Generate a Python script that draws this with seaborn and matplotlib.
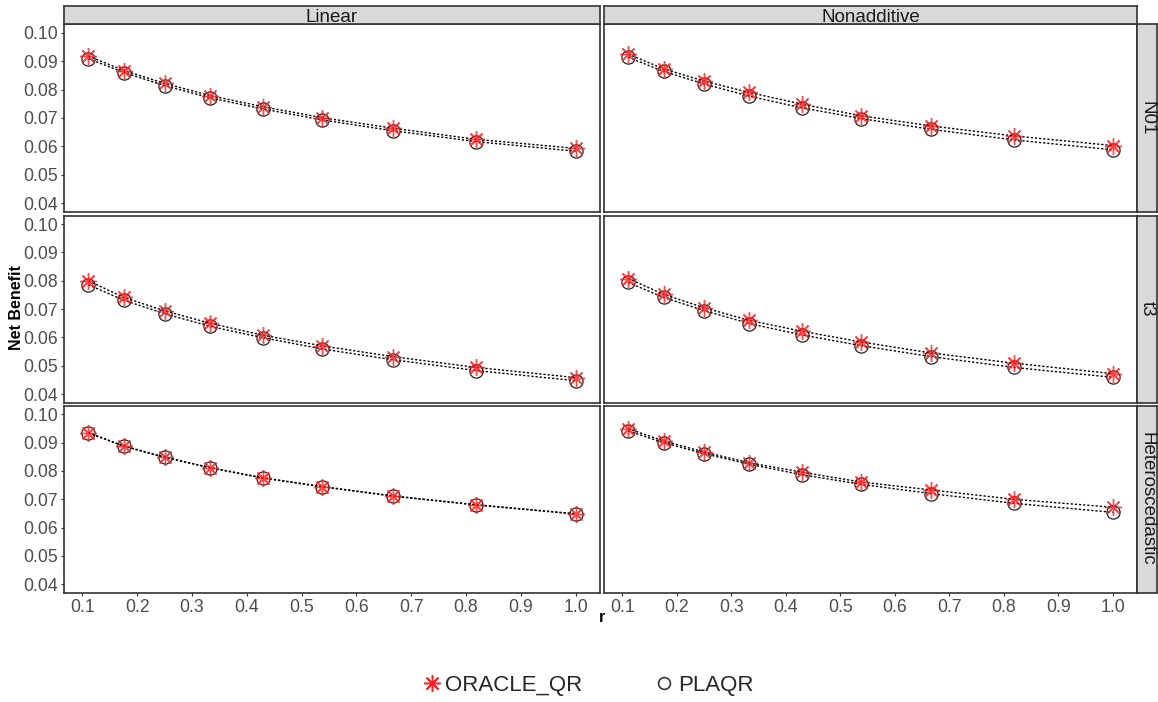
import numpy as np
import pandas as pd
import matplotlib
matplotlib.use("Agg")
import matplotlib.pyplot as plt
import seaborn as sns
from matplotlib.lines import Line2D

# ---------------- data ----------------
r_values = [0.111, 0.176, 0.25, 0.333, 0.429, 0.538, 0.667, 0.818, 1.0]
models = ["Linear", "Nonadditive"]
errors = ["N01", "t3", "Heteroscedastic"]
methods = ["ORACLE_QR", "PLAQR"]

oracle_linear_n01 = [0.0918, 0.0867, 0.0822, 0.0779, 0.0740, 0.0701, 0.0664, 0.0625, 0.0593]
plaqr_linear_n01 = [0.0909, 0.0860, 0.0814, 0.0771, 0.0732, 0.0693, 0.0655, 0.0617, 0.0583]
oracle_nonadd_n01 = [0.0925, 0.0873, 0.0830, 0.0790, 0.0749, 0.0708, 0.0672, 0.0637, 0.0603]
plaqr_nonadd_n01 = [0.0914, 0.0864, 0.0820, 0.0777, 0.0736, 0.0698, 0.0660, 0.0623, 0.0588]

oracle_linear_t3 = [0.0800, 0.0741, 0.0694, 0.0650, 0.0608, 0.0570, 0.0532, 0.0494, 0.0458]
plaqr_linear_t3 = [0.0786, 0.0731, 0.0684, 0.0639, 0.0599, 0.0559, 0.0521, 0.0483, 0.0447]
oracle_nonadd_t3 = [0.0808, 0.0752, 0.0705, 0.0660, 0.0622, 0.0584, 0.0545, 0.0509, 0.0472]
plaqr_nonadd_t3 = [0.0794, 0.0741, 0.0695, 0.0649, 0.0609, 0.0571, 0.0532, 0.0494, 0.0459]

oracle_linear_het = [0.0935, 0.0888, 0.0849, 0.0812, 0.0776, 0.0745, 0.0712, 0.0681, 0.0649]
plaqr_linear_het = [0.0934, 0.0887, 0.0848, 0.0811, 0.0775, 0.0744, 0.0711, 0.0680, 0.0648]
oracle_nonadd_het = [0.0949, 0.0906, 0.0867, 0.0829, 0.0796, 0.0761, 0.0733, 0.0700, 0.0672]
plaqr_nonadd_het = [0.0941, 0.0900, 0.0861, 0.0824, 0.0787, 0.0753, 0.0720, 0.0686, 0.0654]

y_ticks = [0.04, 0.05, 0.06, 0.07, 0.08, 0.09, 0.10]
x_ticks = [0.1, 0.2, 0.3, 0.4, 0.5, 0.6, 0.7, 0.8, 0.9, 1.0]

series = {
    ("Linear", "N01"): (oracle_linear_n01, plaqr_linear_n01),
    ("Nonadditive", "N01"): (oracle_nonadd_n01, plaqr_nonadd_n01),
    ("Linear", "t3"): (oracle_linear_t3, plaqr_linear_t3),
    ("Nonadditive", "t3"): (oracle_nonadd_t3, plaqr_nonadd_t3),
    ("Linear", "Heteroscedastic"): (oracle_linear_het, plaqr_linear_het),
    ("Nonadditive", "Heteroscedastic"): (oracle_nonadd_het, plaqr_nonadd_het),
}

rows = []
for (model, err), (orc, plq) in series.items():
    for method, vals in zip(methods, (orc, plq)):
        for r, v in zip(r_values, vals):
            rows.append(dict(model=model, error=err, method=method, r=r, nb=v))
df = pd.DataFrame(rows)

# ---------------- style ----------------
sns.set_style("white")
plt.rcParams["font.family"] = ["Liberation Sans", "DejaVu Sans"]

W, H = 1158, 702
fig = plt.figure(figsize=(W / 100, H / 100), dpi=100)


def rect(x, y, w, h):
    return [x / W, 1 - (y + h) / H, w / W, h / H]


col_x = [(64, 536), (604, 533)]
row_y = [(24.3, 187.4), (215.7, 186.8), (405.8, 187.0)]
border = "#333333"
strip_fill = "#D9D9D9"

xlim = (0.111 - 0.0445, 1.0 + 0.0445)
ylim = (0.037, 0.103)

red = (1.0, 0.1, 0.1, 0.8)
marker_style = {
    "ORACLE_QR": dict(marker=(8, 2, 0), markersize=12, markeredgecolor=red,
                      markerfacecolor=red, markeredgewidth=1.0),
    "PLAQR": dict(marker="o", markersize=9.5, markeredgecolor="#222222",
                  markerfacecolor="none", markeredgewidth=0.9),
}

for ri, err in enumerate(errors):
    for ci, model in enumerate(models):
        ax = fig.add_axes(rect(col_x[ci][0], row_y[ri][0], col_x[ci][1], row_y[ri][1]))
        sub = df[(df.model == model) & (df.error == err)]
        for method in ["PLAQR", "ORACLE_QR"]:
            d = sub[sub.method == method]
            sns.lineplot(data=d, x="r", y="nb", ax=ax, color="black",
                         linestyle=(0, (1.6, 1.4)), linewidth=1.0,
                         estimator=None, errorbar=None, legend=False,
                         **marker_style[method])
        ax.set_xlim(*xlim)
        ax.set_ylim(*ylim)
        ax.set_xlabel("")
        ax.set_ylabel("")
        ax.set_xticks(x_ticks)
        ax.set_yticks(y_ticks)
        ax.set_xticklabels([f"{t:.1f}" for t in x_ticks])
        ax.set_yticklabels([f"{t:.2f}" for t in y_ticks])
        ax.tick_params(axis="both", labelsize=12.7, labelcolor="#4D4D4D",
                       color=border, length=2.5, width=0.8, pad=2,
                       direction="out")
        ax.tick_params(left=(ci == 0), labelleft=(ci == 0),
                       bottom=(ri == 2), labelbottom=(ri == 2))
        for s in ax.spines.values():
            s.set_color(border)
            s.set_linewidth(1.2)
        ax.grid(False)

        # top strips
        if ri == 0:
            sax = fig.add_axes(rect(col_x[ci][0], 5.5, col_x[ci][1], 18.8))
            sax.set_facecolor(strip_fill)
            sax.set_xticks([])
            sax.set_yticks([])
            for s in sax.spines.values():
                s.set_color(border)
                s.set_linewidth(1.2)
            sax.text(0.5, 0.45, model, ha="center", va="center_baseline",
                     fontsize=13.5, color="#1A1A1A", transform=sax.transAxes)
        # right strips
        if ci == 1:
            sax = fig.add_axes(rect(1137, row_y[ri][0], 20.3, row_y[ri][1]))
            sax.set_facecolor(strip_fill)
            sax.set_xticks([])
            sax.set_yticks([])
            for s in sax.spines.values():
                s.set_color(border)
                s.set_linewidth(1.2)
            sax.text(0.5, 0.5, err, ha="center", va="center", rotation=-90,
                     fontsize=13.5, color="#1A1A1A", transform=sax.transAxes)

fig.text(17 / W, 1 - 308 / H, "Net Benefit", rotation=90, ha="center",
         va="center", fontsize=11.5, fontweight="bold", color="black")
fig.text(602 / W, 1 - 618 / H, "r", ha="center", va="center",
         fontsize=11.5, fontweight="bold", color="black")

handles = [
    Line2D([], [], linestyle="none", marker=(8, 2, 0), markersize=12,
           markeredgecolor="#FF2020", markeredgewidth=1.1),
    Line2D([], [], linestyle="none", marker="o", markersize=8.5,
           markeredgecolor="#333333", markerfacecolor="none", markeredgewidth=1.2),
]
fig.legend(handles, methods, loc="center", bbox_to_anchor=(589 / W, 1 - 685 / H),
           ncol=2, frameon=False, fontsize=16, handlelength=0.6,
           handletextpad=0.3, columnspacing=3.4)

fig.savefig("out.png", dpi=100)
